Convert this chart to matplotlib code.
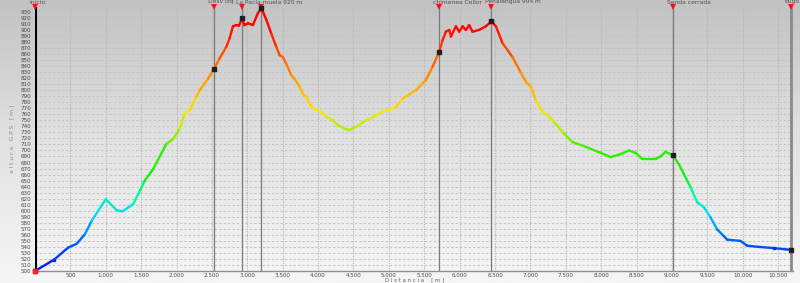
import numpy as np
import matplotlib
matplotlib.use("Agg")
import matplotlib.pyplot as plt
from matplotlib.collections import LineCollection
from matplotlib.colors import LinearSegmentedColormap
from matplotlib.ticker import FuncFormatter, MultipleLocator

# profile: distance [m], altitude [m]
dist = [0, 272, 470, 588, 705, 800, 893, 1001, 1152, 1237, 1387, 1490, 1551,
        1669, 1857, 1951, 2045, 2116, 2186, 2281, 2327, 2444, 2529, 2609,
        2703, 2750, 2797, 2844, 2882, 2924, 2962, 3009, 3079, 3150, 3200,
        3268, 3338, 3409, 3456, 3502, 3549, 3620, 3667, 3738, 3785, 3832,
        3903, 3973, 4044, 4114, 4208, 4279, 4373, 4443, 4537, 4678, 4819,
        4913, 5007, 5101, 5195, 5289, 5383, 5524, 5618, 5712, 5759, 5806,
        5853, 5877, 5947, 5994, 6041, 6088, 6135, 6182, 6276, 6370, 6450,
        6512, 6606, 6747, 6860, 6935, 7006, 7076, 7170, 7264, 7334, 7475,
        7593, 7781, 7993, 8134, 8251, 8392, 8486, 8580, 8768, 8839, 8909,
        8956, 9013, 9097, 9168, 9262, 9356, 9450, 9544, 9638, 9732, 9779,
        9967, 10061, 10226, 10437, 10602, 10680]
alt = [500, 519, 539, 545, 561, 583, 600, 619, 601, 599, 611, 635, 650,
       669, 711, 719, 736, 761, 767, 789, 800, 819, 835, 853,
       872, 886, 906, 908, 907, 919, 908, 911, 908, 928, 936,
       917, 894, 872, 858, 855, 844, 825, 819, 806, 794, 789,
       772, 767, 764, 756, 750, 742, 736, 734, 739, 750, 758,
       765, 767, 772, 786, 793, 800, 817, 839, 864, 883, 897,
       900, 889, 906, 897, 906, 900, 908, 897, 900, 906, 914,
       906, 878, 855, 830, 814, 806, 783, 764, 756, 747, 728,
       714, 706, 696, 689, 693, 700, 696, 686, 686, 690, 698,
       695, 692, 677, 661, 639, 614, 606, 589, 569, 558, 552,
       550, 542, 540, 538, 536, 535]

# waypoints
wp_dist = [0, 2529, 2924, 3200, 5712, 6450, 9013, 10680]
wp_names = ["inicio", "Desv izq", "La Pacla muela 920 m", "", "chimenea Cellor",
            "Peñalengua 904 m", "Senda cerrada", "bugo"]

x_ticks = list(range(500, 10501, 500))

W, H = 800, 283
fig = plt.figure(figsize=(W / 100, H / 100), dpi=100)

# grey-to-white background
bg = fig.add_axes([0, 0, 1, 1], zorder=-10)
grad = np.linspace(0, 1, 256).reshape(-1, 1)
bgcmap = LinearSegmentedColormap.from_list("bg", ["#c2c2c2", "#e2e2e2", "#f6f6f6"])
bg.imshow(grad, aspect="auto", cmap=bgcmap, extent=[0, 1, 0, 1], origin="upper")
bg.axis("off")

ax = fig.add_axes([35 / W, 12 / H, (793 - 35) / W, (271 - 7) / H])
ax.set_facecolor("none")
ax.set_xlim(0, 10710)
ax.set_ylim(500, 938)

# grid
for xt in x_ticks:
    ax.axvline(xt, color="#b4b4b4", lw=0.8, ls=(0, (1, 1.2)), zorder=1)
for yt in range(510, 931, 10):
    ax.axhline(yt, color="#c4c4c4", lw=0.7, ls=(0, (2.5, 2)), zorder=1)

# altitude coloured line
cmap = LinearSegmentedColormap.from_list("alt", [
    (0.00, "#0010ff"), (0.14, "#0070ff"), (0.21, "#00d8ff"),
    (0.30, "#00ffa0"), (0.36, "#10f010"), (0.46, "#30f000"),
    (0.53, "#a0f000"), (0.61, "#ffe800"), (0.70, "#ffb000"),
    (0.79, "#ff7000"), (0.88, "#ff2800"), (0.94, "#ff0000"), (1.0, "#ff0000")])
pts = np.column_stack([dist, alt])
segs = np.stack([pts[:-1], pts[1:]], axis=1)
mid = (np.array(alt[:-1]) + np.array(alt[1:])) / 2
lc = LineCollection(segs, cmap=cmap, norm=plt.Normalize(500, 935), lw=1.7,
                    zorder=4, capstyle="round", joinstyle="round")
lc.set_array(mid)
ax.add_collection(lc)

# waypoint lines, triangles, names, markers
for i, (d, name) in enumerate(zip(wp_dist, wp_names)):
    if i == 0:
        ax.axvline(d, color="black", lw=2.2, zorder=5)
    elif i == len(wp_dist) - 1:
        ax.axvline(d, color="#8a8a8a", lw=2.0, zorder=3)
    else:
        ax.axvline(d, color="#7a7a7a", lw=0.9, zorder=3)
    ax.plot(d, 938, marker="v", color="#ff1010", ms=4.5, clip_on=False, zorder=6,
            markeredgewidth=0)
    if name:
        ax.annotate(name, xy=(d, 1.0), xycoords=("data", "axes fraction"),
                    xytext=(-6, 2.5), textcoords="offset pixels",
                    fontsize=4.3, color="#505050", ha="left", va="bottom",
                    annotation_clip=False)
    wy = np.interp(d, dist, alt)
    ax.plot(d, wy, marker="s", ms=2.2, color="#202020", zorder=6, clip_on=False)

ax.plot(dist[0], alt[0], marker="s", ms=3, color="#ff2020", zorder=7, clip_on=False)
ax.plot(dist[1], alt[1], marker="s", ms=2, color="#1030d0", zorder=7)
ax.plot(dist[-3], alt[-3], marker="s", ms=2, color="#1030d0", zorder=7)

# axes formatting
for s in ["top", "right", "left"]:
    ax.spines[s].set_visible(False)
ax.spines["bottom"].set_color("#909090")
ax.spines["bottom"].set_linewidth(1.0)
ax.set_xticks(x_ticks)
ax.xaxis.set_major_formatter(FuncFormatter(lambda v, p: f"{int(v):,}".replace(",", ".")))
ax.yaxis.set_major_locator(MultipleLocator(10))
ax.tick_params(axis="both", length=0, labelsize=4.1, labelcolor="#4a4a4a")
ax.tick_params(axis="x", pad=1.2)
ax.tick_params(axis="y", pad=3)
ax.set_ylim(500, 938)
fig.text(415 / W, 0.2 / H, "D i s t a n c i a    [ m ]", fontsize=3.9,
         color="#606060", ha="center", va="bottom")
ax.set_ylabel("a l t u r a   G P S   [ m ]", fontsize=4.3, color="#8a8a8a", labelpad=4)

fig.savefig("out.png", dpi=100)
